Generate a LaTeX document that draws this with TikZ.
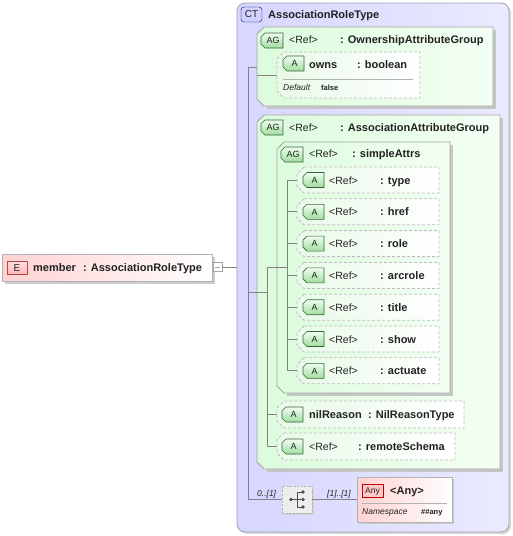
\documentclass[tikz,border=0pt]{standalone}
\usepackage{fontspec}
\setmainfont{Liberation Sans}

\definecolor{ctleft}{RGB}{214,214,255}
\definecolor{ctright}{RGB}{234,234,255}
\definecolor{ctline}{RGB}{160,160,180}
\definecolor{agleft}{RGB}{220,251,220}
\definecolor{agright}{RGB}{244,255,244}
\definecolor{attleft}{RGB}{232,250,232}
\definecolor{boxline}{RGB}{165,165,165}
\definecolor{attline}{RGB}{190,190,190}
\definecolor{badgegreen}{RGB}{160,220,160}
\definecolor{badgeline}{RGB}{55,100,55}
\definecolor{elleft}{RGB}{255,210,210}
\definecolor{elline}{RGB}{185,70,70}
\definecolor{connline}{RGB}{130,130,130}
\definecolor{txt}{RGB}{34,34,34}

% beveled frames and badges
\newcommand{\groupframe}[4]{%
  \fill[gray!45] (#1+10,#2+3) -- (#3+3,#2+3) -- (#3+3,#4+3) -- (#1+10,#4+3) -- cycle;
  \path[grpbox] (#1+7,#2) -- (#3,#2) -- (#3,#4) -- (#1+7,#4) -- (#1,#4-7) -- (#1,#2+7) -- cycle;}
\newcommand{\attrframe}[4]{%
  \path[attbox] (#1+7,#2) -- (#3,#2) -- (#3,#4) -- (#1+7,#4) -- (#1,#4-7) -- (#1,#2+7) -- cycle;}
\newcommand{\tagbadge}[5]{%
  \path[badge] (#2+4,#3) -- (#2+#4,#3) -- (#2+#4,#3+15) -- (#2+4,#3+15) -- (#2,#3+11) -- (#2,#3+4) -- cycle;
  \node[badgetxt] (#1) at (#2+#4/2+1,#3+7.5) {#5};}

\begin{document}
\begin{tikzpicture}[x=1pt, y=-1pt,
  conn/.style={draw=connline, line width=0.7pt},
  ctbox/.style={draw=ctline, line width=0.8pt, rounded corners=8pt, left color=ctleft, right color=ctright},
  grpbox/.style={draw=boxline, line width=0.8pt, left color=agleft, right color=agright},
  attbox/.style={draw=attline, line width=0.8pt, dash pattern=on 3pt off 2pt, left color=attleft, right color=white},
  elbox/.style={draw=gray!60, line width=0.8pt, left color=elleft, right color=white},
  badge/.style={draw=badgeline, line width=0.6pt, top color=green!6, bottom color=badgegreen},
  badgetxt/.style={inner sep=0pt, text height=6.5pt, text depth=0pt, text=txt, font=\fontsize{9}{9}\selectfont},
  reftxt/.style={anchor=base west, inner sep=0pt, text=txt, font=\fontsize{10.5}{12}\selectfont},
  nametxt/.style={anchor=base west, inner sep=0pt, text=txt, font=\fontsize{11}{13}\selectfont\bfseries},
  smalltxt/.style={anchor=base west, inner sep=0pt, text=txt, font=\fontsize{8.5}{10}\selectfont\itshape},
  valtxt/.style={anchor=base west, inner sep=0pt, text=txt, font=\fontsize{7.5}{9}\selectfont\bfseries}]

\useasboundingbox (0,0) rectangle (513,536);

%% complex type frame
\fill[gray!30, rounded corners=8pt] (239,5) rectangle (511,534);
\path[ctbox] (237,3) rectangle (509,532);
\draw[draw=blue!40!black, fill=blue!18, rounded corners=3pt] (241,7) rectangle (262,22);
\node[badgetxt, font=\fontsize{10}{10}\selectfont] (ct-badge) at (251.5,14.5) {CT};
\node[nametxt] (ct-name) at (268,18) {AssociationRoleType};
\coordinate (ct-w) at (237,267);
\coordinate (ct-spine) at (248,0);

%% member element
\fill[gray!40] (5,257) rectangle (215,284);
\path[elbox] (2,254) rectangle (212,281);
\draw[draw=elline, top color=red!12, bottom color=red!28] (7,261) rectangle (27,274);
\node[badgetxt, font=\fontsize{10}{10}\selectfont, text height=7pt] (el-badge) at (17,267.5) {E};
\node[nametxt] (el-name) at (33,271) {member};
\node[nametxt] (el-type) at (83,271) {: AssociationRoleType};
\node[draw=gray!70, fill=white, minimum width=9pt, minimum height=9pt, inner sep=0pt] (el-fold) at (217.5,267) {};
\draw[gray!70] ([xshift=-2.5pt]el-fold.center) -- ([xshift=2.5pt]el-fold.center);
\draw[conn] (el-fold.east) -- (ct-w);

%% OwnershipAttributeGroup
\groupframe{257}{27}{493}{106}
\tagbadge{og-badge}{261}{33}{22}{AG}
\node[reftxt] (og-ref) at (289,43) {<Ref>};
\node[nametxt] (og-name) at (340,43) {: OwnershipAttributeGroup};
\coordinate (og-w) at (257,67);

\attrframe{277}{52}{420}{98}
\tagbadge{owns-badge}{283}{56}{21}{A}
\node[nametxt] (owns-name) at (309,68) {owns};
\node[nametxt] (owns-type) at (357,68) {: boolean};
\draw[gray!60] (283,79) -- (413,79);
\node[smalltxt] (owns-deflabel) at (283,90) {Default};
\node[valtxt] (owns-default) at (321,90) {false};
\coordinate (owns-w) at (277,75);

\draw[conn] (og-w -| ct-spine) -- (og-w);
\draw[conn] (owns-w -| og-w) -- (owns-w);

%% AssociationAttributeGroup
\groupframe{257}{115}{500}{469}
\tagbadge{aag-badge}{261}{120}{22}{AG}
\node[reftxt] (aag-ref) at (289,131) {<Ref>};
\node[nametxt] (aag-name) at (340,131) {: AssociationAttributeGroup};
\coordinate (aag-w) at (257,292);
\coordinate (aag-spine) at (267,0);

%% simpleAttrs
\groupframe{277}{142}{450}{393}
\tagbadge{sa-badge}{281}{147}{22}{AG}
\node[reftxt] (sa-ref) at (309,157) {<Ref>};
\node[nametxt] (sa-name) at (352,157) {: simpleAttrs};
\coordinate (sa-w) at (277,267.5);
\coordinate (sa-spine) at (287,0);

\foreach \nm [count=\i from 0] in {type,href,role,arcrole,title,show,actuate}
  {
    \pgfmathsetmacro{\yt}{167+31.8*\i}
    \attrframe{297}{\yt}{439}{\yt+26}
    \tagbadge{\nm-badge}{303}{\yt+5.5}{21}{A}
    \node[reftxt] (\nm-ref) at (329,\yt+17) {<Ref>};
    \node[nametxt] (\nm-name) at (380,\yt+17) {: \nm};
    \coordinate (\nm-w) at (297,\yt+13);
    \draw[conn] (\nm-w -| sa-spine) -- (\nm-w);
  }
\draw[conn] (type-w -| sa-spine) -- (actuate-w -| sa-spine);

%% nilReason and remoteSchema
\attrframe{277}{401}{464}{428}
\tagbadge{nil-badge}{282}{407}{21}{A}
\node[nametxt] (nil-name) at (309,418.5) {nilReason};
\node[nametxt] (nil-type) at (368,418.5) {: NilReasonType};
\coordinate (nil-w) at (277,414.5);

\attrframe{277}{433}{455}{460}
\tagbadge{rs-badge}{282}{439}{21}{A}
\node[reftxt] (rs-ref) at (309,450.5) {<Ref>};
\node[nametxt] (rs-name) at (358,450.5) {: remoteSchema};
\coordinate (rs-w) at (277,446.5);

\draw[conn] (aag-w -| ct-spine) -- (aag-w -| aag-spine);
\draw[conn] (sa-w -| aag-spine) -- (sa-w -| sa-spine);
\draw[conn] (sa-w -| aag-spine) -- (rs-w -| aag-spine);
\draw[conn] (nil-w -| aag-spine) -- (nil-w);
\draw[conn] (rs-w -| aag-spine) -- (rs-w);

%% sequence and any
\fill[gray!35] (284,488) rectangle (314,515);
\node[draw=gray!60, dash pattern=on 2pt off 1.5pt, fill=gray!14, minimum width=30pt, minimum height=27pt, inner sep=0pt] (seq) at (297,499.5) {};
\draw[black!70, line width=0.8pt] (291,499.5) -- (297,499.5) (303,492) -- (297,492) -- (297,507) -- (303,507) (297,499.5) -- (303,499.5);
\foreach \p in {(291,499.5),(303,492),(303,499.5),(303,507)}
  {
    \fill[black!70] \p circle [radius=1.9pt];
  }
\node[smalltxt] (seq-occ) at (257,496) {0..[1]};
\node[smalltxt] (any-occ) at (327,496) {[1]..[1]};

\fill[gray!40] (359,479) rectangle (454,524);
\path[elbox] (357,477) rectangle (452,522);
\draw[draw=red!75!black, fill=red!22] (362,484) rectangle (383,497);
\node[badgetxt, font=\fontsize{8.5}{9}\selectfont] (any-badge) at (372.5,490.5) {Any};
\node[nametxt] (any-name) at (390,494) {<Any>};
\draw[gray!60] (362,503) -- (447,503);
\node[smalltxt] (any-nslabel) at (362,514) {Namespace};
\node[valtxt] (any-ns) at (421,514) {\#\#any};
\coordinate (any-w) at (357,499.5);

\draw[conn] (og-w -| ct-spine) -- (seq.west -| ct-spine);
\draw[conn] (seq.west -| ct-spine) -- (seq.west);
\draw[conn] (seq.east) -- (any-w);

\end{tikzpicture}
\end{document}
